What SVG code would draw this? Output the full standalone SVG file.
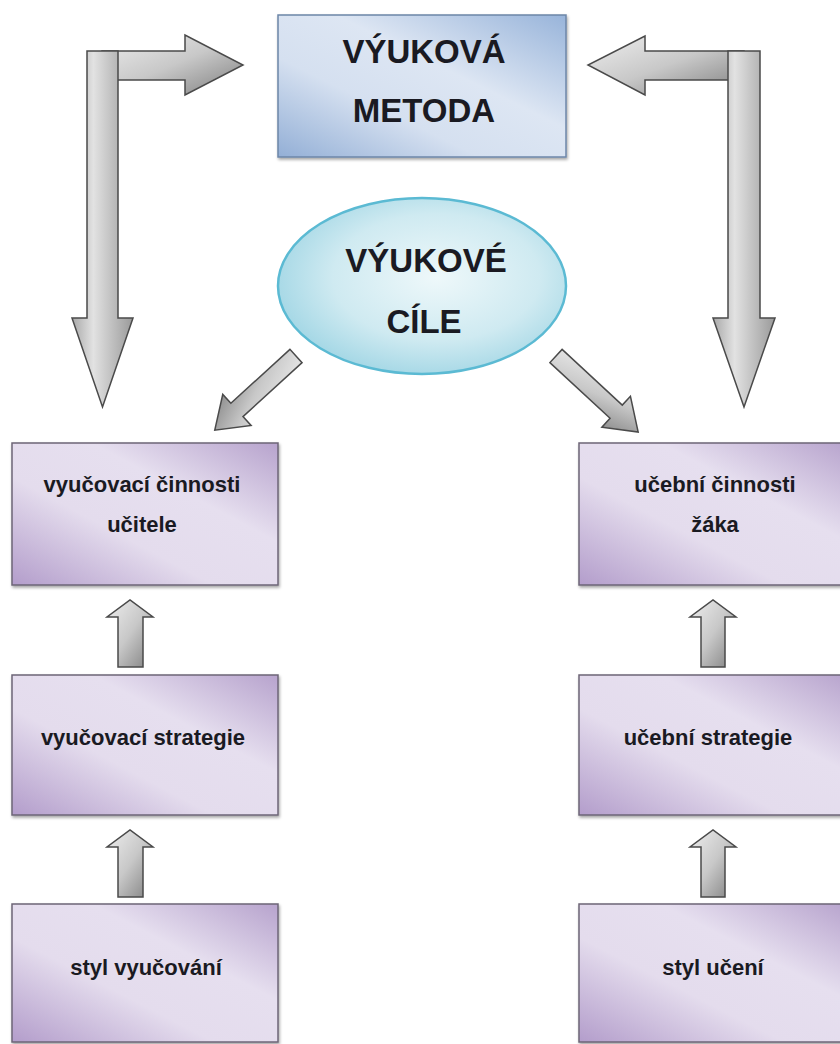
<svg xmlns="http://www.w3.org/2000/svg" width="840" height="1044" viewBox="0 0 840 1044">
  <style>
    .t { font-family: "Liberation Sans", Arial, sans-serif; font-weight: bold; fill: #1a1a22; text-anchor: middle; }
    .big { font-size: 33px; }
    .sm { font-size: 22px; }
    .box { fill: url(#purple); stroke: #6d6577; stroke-width: 1.5; filter: url(#sh); }
    .arr { fill: url(#gray); stroke: #4a4a4a; stroke-width: 1.5; stroke-linejoin: miter; }
    .arrv { fill: url(#grayv); stroke: #4a4a4a; stroke-width: 1.5; }
  </style>
  <defs>
    <linearGradient id="purple" x1="1" y1="0" x2="0" y2="1">
      <stop offset="0" stop-color="#b7a3cd"/>
      <stop offset="0.35" stop-color="#e6dfef"/>
      <stop offset="0.62" stop-color="#e4dced"/>
      <stop offset="1" stop-color="#b39dcb"/>
    </linearGradient>
    <linearGradient id="blue" x1="1" y1="0" x2="0" y2="1">
      <stop offset="0" stop-color="#98b4da"/>
      <stop offset="0.4" stop-color="#dde6f3"/>
      <stop offset="0.65" stop-color="#d5e0f0"/>
      <stop offset="1" stop-color="#93afd6"/>
    </linearGradient>
    <radialGradient id="cyan" cx="0.55" cy="0.45" r="0.6">
      <stop offset="0" stop-color="#eef8fa"/>
      <stop offset="0.6" stop-color="#cfeaf1"/>
      <stop offset="1" stop-color="#9fd5e4"/>
    </radialGradient>
    <linearGradient id="gray" x1="0" y1="0" x2="1" y2="1">
      <stop offset="0" stop-color="#eeeeee"/>
      <stop offset="0.5" stop-color="#c8c8c8"/>
      <stop offset="1" stop-color="#7e7e7e"/>
    </linearGradient>
    <linearGradient id="grayv" x1="0" y1="0" x2="1" y2="0">
      <stop offset="0" stop-color="#a8a8a8"/>
      <stop offset="0.35" stop-color="#e2e2e2"/>
      <stop offset="1" stop-color="#9a9a9a"/>
    </linearGradient>
    <filter id="sh" x="-5%" y="-5%" width="112%" height="115%">
      <feDropShadow dx="1" dy="2" stdDeviation="1.5" flood-color="#000" flood-opacity="0.35"/>
    </filter>
  </defs>

  <g id="connectors">
    <!-- left L arrow -->
    <polygon class="arr" points="102,51 185,51 185,35 243,65 185,95 185,80 102,80"/>
    <polygon class="arrv" points="87,51 118,51 118,318 133,318 102.5,407 72,318 87,318"/>
    <!-- right L arrow -->
    <polygon class="arr" points="744,51 645,51 645,36 588,65 645,95 645,80 744,80"/>
    <polygon class="arrv" points="728,51 760,51 760,318 775,318 744,407 713,318 728,318"/>
    <!-- diagonal arrows -->
    <polygon class="arr" transform="translate(296,356) rotate(137.6)" points="0,-9 80,-9 80,-21 110,0 80,21 80,9 0,9"/>
    <polygon class="arr" transform="translate(556,356) rotate(42.8)" points="0,-9 82,-9 82,-21 112,0 82,21 82,9 0,9"/>
    <!-- small up arrows -->
    <polygon class="arr" points="118,667 118,617 107,617 130,600 153,617 143,617 143,667"/>
    <polygon class="arr" points="118,897 118,847 107,847 130,830 153,847 143,847 143,897"/>
    <polygon class="arr" points="701,667 701,617 690,617 713,600 736,617 725,617 725,667"/>
    <polygon class="arr" points="701,897 701,847 690,847 713,830 736,847 725,847 725,897"/>
  </g>

  <g id="metoda">
    <rect x="278" y="15" width="288" height="142" fill="url(#blue)" stroke="#6c86a8" stroke-width="1.5" filter="url(#sh)"/>
    <text class="t big" x="424" y="63">VÝUKOVÁ</text>
    <text class="t big" x="424" y="122">METODA</text>
  </g>

  <g id="cile">
    <ellipse cx="422" cy="286" rx="144" ry="88" fill="url(#cyan)" stroke="#5bbad3" stroke-width="2.5"/>
    <text class="t big" x="426" y="272">VÝUKOVÉ</text>
    <text class="t big" x="424" y="333">CÍLE</text>
  </g>

  <g id="cinnosti-ucitele">
    <rect class="box" x="12" y="443" width="266" height="142"/>
    <text class="t sm" x="142" y="492">vyučovací činnosti</text>
    <text class="t sm" x="142" y="532">učitele</text>
  </g>
  <g id="strategie-vyucovaci">
    <rect class="box" x="12" y="675" width="266" height="140"/>
    <text class="t sm" x="143" y="745">vyučovací strategie</text>
  </g>
  <g id="styl-vyucovani">
    <rect class="box" x="12" y="904" width="266" height="138"/>
    <text class="t sm" x="146" y="975">styl vyučování</text>
  </g>

  <g id="cinnosti-zaka">
    <rect class="box" x="579" y="443" width="270" height="142"/>
    <text class="t sm" x="715" y="492">učební činnosti</text>
    <text class="t sm" x="715" y="532">žáka</text>
  </g>
  <g id="strategie-ucebni">
    <rect class="box" x="579" y="675" width="270" height="140"/>
    <text class="t sm" x="708" y="745">učební strategie</text>
  </g>
  <g id="styl-uceni">
    <rect class="box" x="579" y="904" width="270" height="138"/>
    <text class="t sm" x="713" y="975">styl učení</text>
  </g>
</svg>
